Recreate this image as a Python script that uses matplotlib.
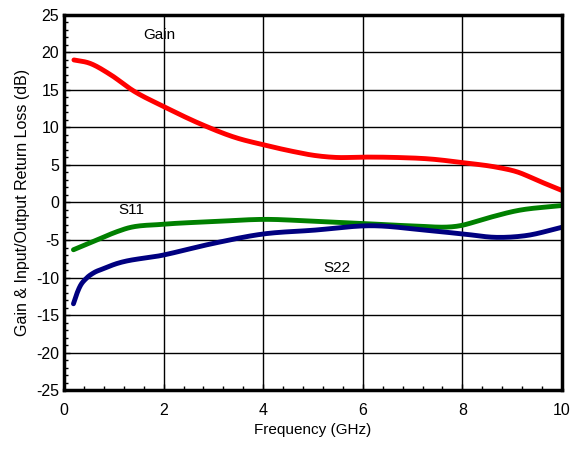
import numpy as np
import matplotlib
matplotlib.use("Agg")
import matplotlib.pyplot as plt
from matplotlib.ticker import MultipleLocator

plt.rcParams['font.family'] = ['Liberation Sans', 'DejaVu Sans']
plt.rcParams['axes.unicode_minus'] = False

# 数据: 频率 (GHz) 与各曲线 (dB)
gain_f = [0.2, 0.5, 0.92, 1.39, 2.0, 2.8, 3.47, 4.0, 4.6, 5.0, 5.48, 6.0, 6.68, 7.35, 8.02, 8.69, 9.09, 9.56, 10.0]
gain_db = [19.0, 18.6, 17.1, 14.9, 12.8, 10.3, 8.6, 7.7, 6.8, 6.3, 6.0, 6.05, 6.0, 5.8, 5.3, 4.7, 4.1, 2.8, 1.6]

s11_f = [0.19, 0.59, 1.06, 1.26, 2.0, 3.0, 4.07, 5.0, 6.0, 6.95, 7.95, 8.49, 9.09, 10.0]
s11_db = [-6.3, -5.2, -3.9, -3.45, -2.9, -2.55, -2.25, -2.5, -2.8, -3.1, -3.1, -2.1, -1.1, -0.4]

s22_f = [0.19, 0.25, 0.32, 0.45, 0.59, 0.8, 0.99, 2.0, 3.0, 4.0, 5.0, 6.2, 7.27, 8.02, 8.69, 9.29, 10.0]
s22_db = [-13.5, -12.3, -11.2, -10.1, -9.4, -8.8, -8.3, -7.0, -5.45, -4.2, -3.7, -3.1, -3.7, -4.2, -4.65, -4.4, -3.3]


def smooth(xs, ys, n=30):
    # Hermite 样条, 让曲线平滑
    x = np.asarray(xs, float)
    y = np.asarray(ys, float)
    m = np.gradient(y, x)
    ox, oy = [], []
    for i in range(len(x) - 1):
        h = x[i + 1] - x[i]
        t = np.linspace(0, 1, n, endpoint=False)
        h00 = 2 * t**3 - 3 * t**2 + 1
        h10 = t**3 - 2 * t**2 + t
        h01 = -2 * t**3 + 3 * t**2
        h11 = t**3 - t**2
        ox.extend(x[i] + t * h)
        oy.extend(h00 * y[i] + h10 * h * m[i] + h01 * y[i + 1] + h11 * h * m[i + 1])
    ox.append(x[-1])
    oy.append(y[-1])
    return ox, oy


fig = plt.figure(figsize=(5.78, 4.53), dpi=100)
ax = fig.add_axes([0.1107, 0.139, 0.8616, 0.828])

ax.plot(*smooth(gain_f, gain_db), color='#FF0000', lw=3.5, solid_capstyle='round')
ax.plot(*smooth(s11_f, s11_db), color='#008000', lw=3.5, solid_capstyle='round')
ax.plot(*smooth(s22_f, s22_db), color='#000080', lw=3.5, solid_capstyle='round')

ax.set_xlim(0, 10)
ax.set_ylim(-25, 25)
ax.xaxis.set_major_locator(MultipleLocator(2))
ax.xaxis.set_minor_locator(MultipleLocator(0.4))
ax.yaxis.set_major_locator(MultipleLocator(5))
ax.yaxis.set_minor_locator(MultipleLocator(1))
ax.tick_params(which='both', direction='in', labelsize=11.5)
ax.tick_params(which='major', length=4, width=1)
ax.tick_params(which='minor', length=3, width=1)
ax.tick_params(axis='x', pad=9)
ax.grid(True, which='major', color='black', lw=1)
for sp in ax.spines.values():
    sp.set_linewidth(2.5)

ax.text(1.6, 22.3, 'Gain', fontsize=11, va='center')
ax.text(1.1, -1.0, 'S11', fontsize=11, va='center')
ax.text(5.2, -8.7, 'S22', fontsize=11, va='center')

ax.set_xlabel('Frequency (GHz)', fontsize=11)
ax.set_ylabel('Gain & Input/Output Return Loss (dB)', fontsize=11.5)

fig.savefig('out.png', dpi=100)
